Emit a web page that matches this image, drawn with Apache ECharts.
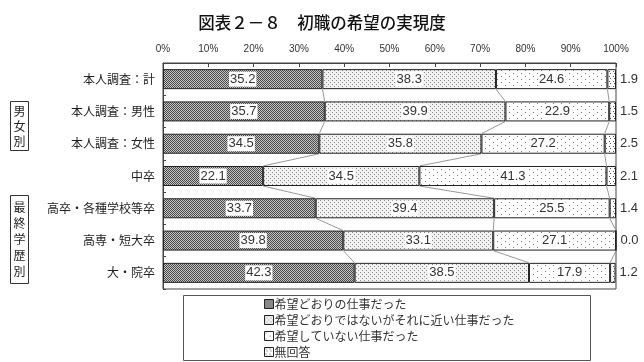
<!DOCTYPE html>
<html><head><meta charset="utf-8">
<script src="https://cdn.jsdelivr.net/npm/echarts@6/dist/echarts.min.js"></script>
<style>html,body{margin:0;padding:0;background:#fff}#c{width:644px;height:362px}</style>
</head><body><div id="c"></div>
<script>
const categories = ['本人調査：計','本人調査：男性','本人調査：女性','中卒','高卒・各種学校等卒','高専・短大卒','大・院卒'];
const seriesNames = ['希望どおりの仕事だった','希望どおりではないがそれに近い仕事だった','希望していない仕事だった','無回答'];
const asHoped = [35.2, 35.7, 34.5, 22.1, 33.7, 39.8, 42.3];
const close = [38.3, 39.9, 35.8, 34.5, 39.4, 33.1, 38.5];
const notHoped = [24.6, 22.9, 27.2, 41.3, 25.5, 27.1, 17.9];
const noAnswer = [1.9, 1.5, 2.5, 2.1, 1.4, 0.0, 1.2];
const tickLabels = ['0%','10%','20%','30%','40%','50%','60%','70%','80%','90%','100%'];

function pattern(w, h, bg, fg, pts) {
  const c = document.createElement('canvas');
  c.width = w; c.height = h;
  const g = c.getContext('2d');
  g.fillStyle = bg; g.fillRect(0, 0, w, h);
  g.fillStyle = fg;
  pts.forEach(p => g.fillRect(p[0], p[1], 1, 1));
  return {image: c, repeat: 'repeat'};
}
const pat1 = pattern(2, 2, '#c4c4c4', '#4a4a4a', [[0,0],[1,1]]);
const pat2 = pattern(4, 4, '#f2f2f2', '#8a8a8a', [[0,0],[2,2]]);
const pat3 = pattern(8, 6, '#ffffff', '#7a7a7a', [[1,1],[5,4]]);
const pat4 = pattern(4, 5, '#ffffff', '#555555', [[1,1],[2,3]]);
const pats = [pat1, pat2, pat3, pat4];
const values = [asHoped, close, notHoped, noAnswer];

const cum = [];
let run = categories.map(() => 0);
for (let k = 0; k < 3; k++) {
  run = run.map((v, i) => v + values[k][i]);
  cum.push(run.slice());
}

const labelFont = {fontFamily: '"Noto Sans CJK JP", sans-serif', fontSize: 12, color: '#222'};

const barSeries = seriesNames.map((name, k) => ({
  name: name,
  type: 'bar',
  stack: 'all',
  barCategoryGap: '38%',
  data: values[k],
  itemStyle: {color: pats[k], borderColor: '#222', borderWidth: 1},
  label: k < 3 ? {
    show: true, position: 'inside', formatter: p => p.value.toFixed(1),
    backgroundColor: '#fff', padding: [1, 1, 0, 1], lineHeight: 14,
    fontFamily: 'Liberation Sans, sans-serif', fontSize: 13, color: '#333'
  } : {
    show: true, position: 'right', distance: 4, formatter: p => p.value.toFixed(1),
    fontFamily: 'Liberation Sans, sans-serif', fontSize: 13, color: '#333'
  },
  emphasis: {disabled: true},
  z: 3
}));

const linkData = categories.slice(0, -1).map((c, i) => [i]);
const linkSeries = {
  type: 'custom',
  name: 'links',
  silent: true,
  z: 1,
  data: linkData,
  encode: {y: 0},
  renderItem: function (params, api) {
    const i = api.value(0);
    const band = api.size([0, 1])[1];
    const half = band * 0.31;
    const children = [];
    for (let k = 0; k < 3; k++) {
      const a = api.coord([cum[k][i], i]);
      const b = api.coord([cum[k][i + 1], i + 1]);
      children.push({
        type: 'line',
        shape: {x1: a[0], y1: a[1] + half, x2: b[0], y2: b[1] - half},
        style: {stroke: '#999', lineWidth: 1}
      });
    }
    return {type: 'group', children: children};
  }
};

const chart = echarts.init(document.getElementById('c'), null, {renderer: 'canvas'});
chart.setOption({
  animation: false,
  backgroundColor: '#fff',
  title: {
    text: '図表２－８　初職の希望の実現度',
    left: 'center', top: 9,
    textStyle: {fontFamily: '"Noto Sans CJK JP", sans-serif', fontSize: 16.5, fontWeight: 500, color: '#111'}
  },
  legend: {
    data: seriesNames.map(n => ({name: n, icon: 'rect'})),
    orient: 'vertical',
    left: 264, top: 297, padding: 0,
    itemWidth: 9, itemHeight: 9, itemGap: 2,
    textStyle: {fontFamily: '"Noto Sans CJK JP", sans-serif', fontSize: 12, lineHeight: 14, color: '#333', padding: [0, 0, 0, -4]},
    itemStyle: {borderColor: '#222', borderWidth: 1},
    selectedMode: false
  },
  grid: {left: 163, right: 28, top: 63, bottom: 73, show: true, borderColor: '#444', borderWidth: 1, containLabel: false},
  xAxis: {
    type: 'value', position: 'top', min: 0, max: 100, interval: 10,
    axisLine: {show: true, lineStyle: {color: '#444'}},
    axisTick: {show: true, inside: true, length: 4, lineStyle: {color: '#444'}},
    splitLine: {show: false},
    axisLabel: {
      formatter: v => tickLabels[Math.round(v / 10)],
      fontFamily: 'Liberation Sans, sans-serif', fontSize: 10, color: '#333', margin: 9
    }
  },
  yAxis: {
    type: 'category', data: categories, inverse: true,
    axisLine: {show: true, lineStyle: {color: '#444'}},
    axisTick: {show: true, inside: true, length: 3, lineStyle: {color: '#444'}},
    axisLabel: Object.assign({margin: 8}, labelFont)
  },
  graphic: [
    {type: 'rect', shape: {x: 10.5, y: 101.5, width: 18, height: 49}, style: {fill: 'none', stroke: '#333', lineWidth: 1}},
    {type: 'text', x: 19.5, y: 126, style: {text: '男\n女\n別', align: 'center', verticalAlign: 'middle', lineHeight: 15, font: '12px "Noto Sans CJK JP"', fill: '#222'}},
    {type: 'rect', shape: {x: 10.5, y: 195.5, width: 18, height: 88}, style: {fill: 'none', stroke: '#333', lineWidth: 1}},
    {type: 'text', x: 19.5, y: 239.5, style: {text: '最\n終\n学\n歴\n別', align: 'center', verticalAlign: 'middle', lineHeight: 16, font: '12px "Noto Sans CJK JP"', fill: '#222'}},
    {type: 'rect', shape: {x: 183.5, y: 295.5, width: 407, height: 65}, style: {fill: 'none', stroke: '#555', lineWidth: 1}}
  ],
  series: barSeries.concat([linkSeries])
});
</script></body></html>
